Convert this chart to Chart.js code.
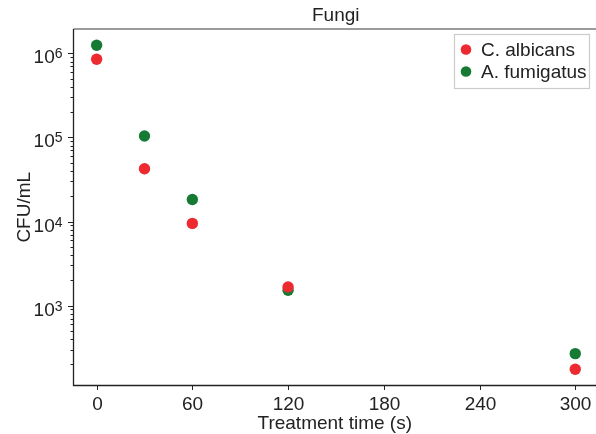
<!DOCTYPE html>
<html>
<head>
<meta charset="utf-8">
<script src="https://cdn.jsdelivr.net/npm/chart.js@4.4.1/dist/chart.umd.min.js"></script>
<style>
  html, body { margin: 0; padding: 0; background: #fff; }
  #wrap { width: 596px; height: 434px; }
</style>
</head>
<body>
<div id="wrap"><canvas id="c" width="596" height="434"></canvas></div>
<script>
// Treatment times (s)
const times = [0, 30, 60, 120, 300];
// Surviving counts, CFU/mL
const albicans = [850000, 42500, 9500, 1660, 175];
const fumigatus = [1250000, 104000, 18300, 1520, 268];
// Axis ticks
const xTicks = [0, 60, 120, 180, 240, 300];
const yDecades = [3, 4, 5, 6];

const FONT = '"Liberation Sans", Arial, Helvetica, sans-serif';
const TEXT = '#222';
const RED = '#ec2a30';
const GREEN = '#167a35';

function pts(vals) { return times.map((t, i) => ({ x: t, y: vals[i] })); }

// Axes, ticks, labels, title and boxed legend
const decor = {
  id: 'decor',
  afterDraw(chart) {
    const ctx = chart.ctx;
    const a = chart.chartArea;
    const xs = chart.scales.x, ys = chart.scales.y;
    ctx.save();

    // top frame
    ctx.strokeStyle = '#7a7a7a';
    ctx.lineWidth = 1.5;
    ctx.beginPath(); ctx.moveTo(a.left, a.top); ctx.lineTo(a.right, a.top); ctx.stroke();

    // left and bottom axis lines
    ctx.strokeStyle = '#222';
    ctx.lineWidth = 1.3;
    ctx.beginPath();
    ctx.moveTo(a.left, a.top); ctx.lineTo(a.left, a.bottom); ctx.lineTo(a.right, a.bottom);
    ctx.stroke();

    ctx.lineWidth = 1;
    // y ticks, major and minor
    for (let d = 2; d <= 6; d++) {
      for (let m = 1; m <= 9; m++) {
        const v = m * Math.pow(10, d);
        if (v < ys.min || v > ys.max) continue;
        const py = Math.round(ys.getPixelForValue(v)) + 0.5;
        const len = m === 1 ? 5.5 : 3;
        ctx.beginPath(); ctx.moveTo(a.left - len, py); ctx.lineTo(a.left, py); ctx.stroke();
      }
    }
    // y labels as 10 with raised exponent
    ctx.fillStyle = TEXT;
    ctx.textBaseline = 'alphabetic';
    ctx.textAlign = 'left';
    yDecades.forEach(d => {
      const py = ys.getPixelForValue(Math.pow(10, d));
      const expStr = String(d);
      ctx.font = '14px ' + FONT;
      const ew = ctx.measureText(expStr).width;
      ctx.font = '19px ' + FONT;
      const bw = ctx.measureText('10').width;
      const right = a.left - 11;
      const bx = right - ew - bw;
      ctx.fillText('10', bx, py + 10);
      ctx.font = '14px ' + FONT;
      ctx.fillText(expStr, bx + bw, py + 5);
    });

    // x ticks and labels
    ctx.font = '19px ' + FONT;
    ctx.textAlign = 'center';
    xTicks.forEach(t => {
      const px = Math.round(xs.getPixelForValue(t)) + 0.5;
      ctx.beginPath(); ctx.moveTo(px, a.bottom); ctx.lineTo(px, a.bottom + 4.5); ctx.stroke();
      ctx.fillText(String(t), px, 410);
    });

    // axis titles
    ctx.font = '19px ' + FONT;
    ctx.fillText('Treatment time (s)', (a.left + a.right) / 2, 429);
    ctx.save();
    ctx.translate(30, (a.top + a.bottom) / 2);
    ctx.rotate(-Math.PI / 2);
    ctx.textAlign = 'center';
    ctx.fillText('CFU/mL', 0, 0);
    ctx.restore();

    // title
    ctx.font = '19px ' + FONT;
    ctx.textAlign = 'center';
    ctx.fillText('Fungi', (a.left + a.right) / 2 + 1, 21);

    // legend box
    const lx = 454.5, ly = 34.5, lw = 135, lh = 54;
    ctx.fillStyle = '#fff';
    ctx.fillRect(lx, ly, lw, lh);
    ctx.strokeStyle = '#cccccc';
    ctx.lineWidth = 1.2;
    ctx.strokeRect(lx, ly, lw, lh);
    chart.data.datasets.forEach((ds, i) => {
      const cy = 49.5 + i * 22;
      ctx.fillStyle = ds.backgroundColor;
      ctx.beginPath(); ctx.arc(466, cy, 5.3, 0, Math.PI * 2); ctx.fill();
      ctx.fillStyle = TEXT;
      ctx.font = '19px ' + FONT;
      ctx.textAlign = 'left';
      ctx.fillText(ds.label, 481, cy + 6.7);
    });
    ctx.restore();
  }
};

new Chart(document.getElementById('c'), {
  type: 'scatter',
  data: {
    datasets: [
      { label: 'C. albicans', data: pts(albicans), backgroundColor: RED, borderColor: RED,
        pointRadius: 5.7, borderWidth: 0 },
      { label: 'A. fumigatus', data: pts(fumigatus), backgroundColor: GREEN, borderColor: GREEN,
        pointRadius: 5.7, borderWidth: 0 }
    ]
  },
  options: {
    responsive: false,
    animation: false,
    devicePixelRatio: 1,
    layout: { autoPadding: false, padding: { left: 73.5, top: 29, right: 0, bottom: 48.5 } },
    plugins: { legend: { display: false }, title: { display: false }, tooltip: { enabled: false } },
    scales: {
      x: { type: 'linear', display: false, min: -14.5, max: 313 },
      y: { type: 'logarithmic', display: false, min: 112, max: 1.95e6 }
    }
  },
  plugins: [decor]
});
</script>
</body>
</html>
